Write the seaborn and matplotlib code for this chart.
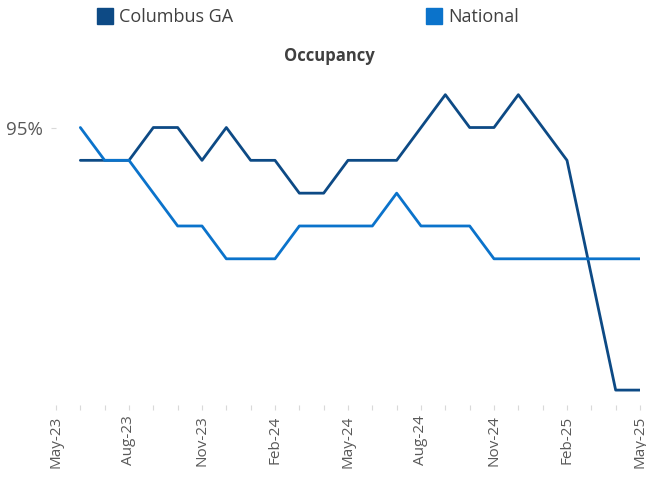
import matplotlib
matplotlib.use("Agg")
import matplotlib.pyplot as plt
from matplotlib.lines import Line2D
import seaborn as sns
import pandas as pd

# ---- data ----
axis_months = ["May-23", "Jun-23", "Jul-23", "Aug-23", "Sep-23", "Oct-23", "Nov-23",
               "Dec-23", "Jan-24", "Feb-24", "Mar-24", "Apr-24", "May-24", "Jun-24",
               "Jul-24", "Aug-24", "Sep-24", "Oct-24", "Nov-24", "Dec-24", "Jan-25",
               "Feb-25", "Mar-25", "Apr-25", "May-25"]
data_months = axis_months[1:]
columbus = [94.5, 94.5, 94.5, 95.0, 95.0, 94.5, 95.0, 94.5, 94.5, 94.0, 94.0, 94.5,
            94.5, 94.5, 95.0, 95.5, 95.0, 95.0, 95.5, 95.0, 94.5, 92.75, 91.0, 91.0]
national = [95.0, 94.5, 94.5, 94.0, 93.5, 93.5, 93.0, 93.0, 93.0, 93.5, 93.5, 93.5,
            93.5, 94.0, 93.5, 93.5, 93.5, 93.0, 93.0, 93.0, 93.0, 93.0, 93.0, 93.0]
series_names = ["Columbus GA", "National"]
colors = ["#0D4A85", "#0B73CB"]
title = "Occupancy"
ytick_values = [95]
ytick_labels = ["95%"]

# ---- build frame ----
pos = {m: i for i, m in enumerate(axis_months)}
rows = []
for name, vals in zip(series_names, [columbus, national]):
    for m, v in zip(data_months, vals):
        rows.append({"x": pos[m], "value": v, "series": name})
df = pd.DataFrame(rows)

sns.set_style("white")
plt.rcParams["font.family"] = ["Open Sans", "DejaVu Sans"]

fig = plt.figure(figsize=(6.46, 4.82), dpi=100)
W, H = 646, 482
ax = fig.add_axes([56 / W, 1 - 405 / H, (640 - 56) / W, (405 - 75) / H])

sns.lineplot(data=df, x="x", y="value", hue="series", hue_order=series_names,
             palette=colors, linewidth=2.0, ax=ax, legend=False, sort=True)

ax.set_xlim(0, len(axis_months) - 1)
ax.set_ylim(90.773, 95.80)
for s in ax.spines.values():
    s.set_visible(False)

major = list(range(0, len(axis_months), 3))
ax.set_xticks(major)
ax.set_xticklabels([axis_months[i] for i in major], rotation=90,
                   fontsize=11, color="#595959")
ax.set_xticks(list(range(len(axis_months))), minor=True)
ax.tick_params(axis="x", which="both", direction="out", length=3.5, width=0.8,
               color="#D9D9D9", bottom=True, pad=4)
ax.set_yticks(ytick_values)
ax.set_yticklabels(ytick_labels, fontsize=13.5, color="#595959")
ax.tick_params(axis="y", direction="out", length=3.5, width=0.8, color="#D9D9D9",
               left=True, pad=6)
ax.set_xlabel("")
ax.set_ylabel("")
ax.grid(False)

fig.text(329 / W, 1 - 56 / H, title, ha="center", va="center", fontsize=12,
         fontweight="bold", color="#404040")

legend_x = [96, 425]
for name, c, lx in zip(series_names, colors, legend_x):
    h = Line2D([], [], marker="s", linestyle="", color=c, markersize=12)
    fig.legend(handles=[h], labels=[name], loc="center left",
               bbox_to_anchor=(lx / W, 1 - 17 / H), frameon=False, fontsize=13,
               handletextpad=0.3, borderpad=0, borderaxespad=0, handlelength=1.0,
               labelcolor="#404040")

fig.savefig("out.png", dpi=100)
